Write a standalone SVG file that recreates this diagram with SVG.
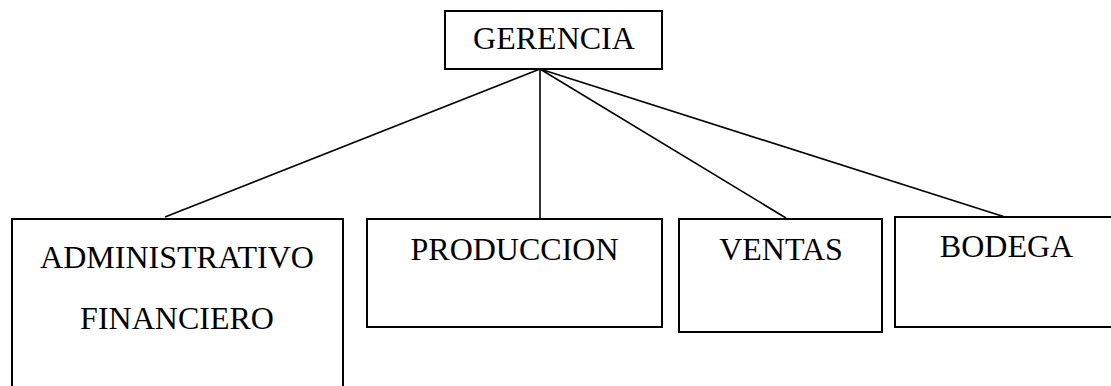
<svg xmlns="http://www.w3.org/2000/svg" width="1111" height="386" viewBox="0 0 1111 386">
<style>
.box{fill:#fff;stroke:#000;stroke-width:2}
.lbl{font-family:"Liberation Serif","Times New Roman",serif;font-size:32px;fill:#000;text-anchor:middle}
.con line{stroke:#000;stroke-width:1.6}
</style>
<rect width="1111" height="386" fill="#fff"/>
<g id="connectors" class="con">
<line x1="540" y1="69" x2="165" y2="217"/>
<line x1="540" y1="69" x2="540" y2="219"/>
<line x1="540" y1="69" x2="786" y2="218"/>
<line x1="540" y1="69" x2="1005" y2="217"/>
</g>
<g id="gerencia">
<rect class="box" x="445" y="11" width="217" height="58"/>
<text class="lbl" x="554" y="49">GERENCIA</text>
</g>
<g id="administrativo">
<rect class="box" x="12" y="219" width="331" height="180"/>
<text class="lbl" x="177" y="268">ADMINISTRATIVO</text>
<text class="lbl" x="177" y="329">FINANCIERO</text>
</g>
<g id="produccion">
<rect class="box" x="367" y="219" width="295" height="108"/>
<text class="lbl" x="514.5" y="260">PRODUCCION</text>
</g>
<g id="ventas">
<rect class="box" x="679" y="219" width="203" height="113"/>
<text class="lbl" x="781" y="260">VENTAS</text>
</g>
<g id="bodega">
<rect class="box" x="895" y="217" width="230" height="110"/>
<text class="lbl" x="1006.5" y="257">BODEGA</text>
</g>
</svg>
